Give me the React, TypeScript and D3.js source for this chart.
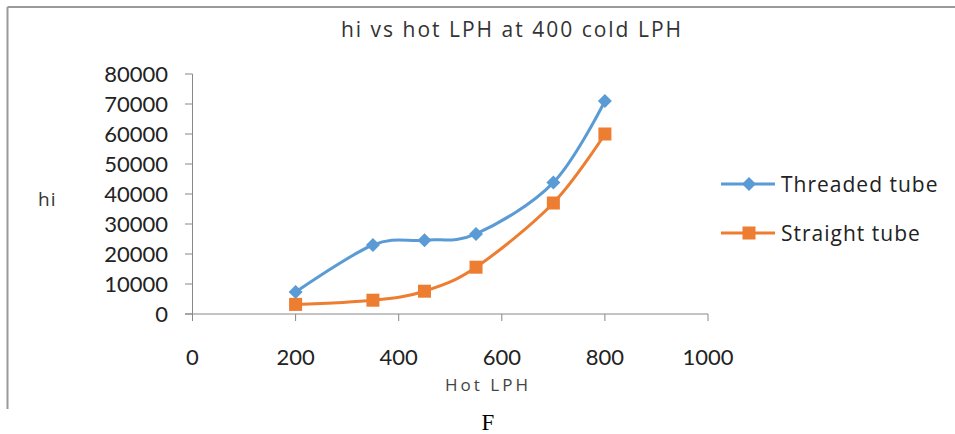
import React from "react";
import * as d3 from "d3";

const hotLPH = [200, 350, 450, 550, 700, 800];
const threaded = [7300, 23000, 24600, 26700, 43800, 71000];
const straight = [3200, 4600, 7600, 15600, 37000, 60000];
const xTicks = [0, 200, 400, 600, 800, 1000];
const yTicks = [0, 10000, 20000, 30000, 40000, 50000, 60000, 70000, 80000];

const W = 955;
const H = 434;
const BLUE = "#5B9BD5";
const ORANGE = "#ED7D31";
const FONT = "Lato, 'Open Sans', sans-serif";
const FONT2 = "'Open Sans', Lato, sans-serif";

export default function App() {
  const x = d3.scaleLinear().domain([0, 1000]).range([192.5, 708]);
  const y = d3.scaleLinear().domain([0, 80000]).range([314, 74]);
  const line = d3
    .line<[number, number]>()
    .x((d) => x(d[0]))
    .y((d) => y(d[1]))
    .curve(d3.curveCatmullRom.alpha(0));
  const tData = hotLPH.map((h, i) => [h, threaded[i]] as [number, number]);
  const sData = hotLPH.map((h, i) => [h, straight[i]] as [number, number]);
  const diamond = (cx: number, cy: number, r: number) =>
    `M${cx},${cy - r}L${cx + r},${cy}L${cx},${cy + r}L${cx - r},${cy}Z`;

  return (
    <svg
      width={W}
      height={H}
      style={{ position: "absolute", left: 0, top: 0, background: "#fff" }}
    >
      <rect x={0} y={0} width={W} height={H} fill="#fff" />
      {/* chart border */}
      <line x1={7.5} y1={7} x2={W} y2={7} stroke="#9a9a9a" strokeWidth={2} />
      <line x1={7.5} y1={7} x2={7.5} y2={409} stroke="#9a9a9a" strokeWidth={2} />

      <text
        x={512}
        y={37}
        textAnchor="middle"
        fontFamily={FONT2}
        fontSize={21}
        letterSpacing={2}
        fill="#333"
      >
        hi vs hot LPH at 400 cold LPH
      </text>

      {/* axes */}
      <line x1={x(0)} y1={y(0)} x2={x(0)} y2={y(80000)} stroke="#888" strokeWidth={1} />
      <line x1={185} y1={y(0)} x2={x(1000)} y2={y(0)} stroke="#888" strokeWidth={1} />
      {yTicks.map((t) => (
        <g key={"y" + t}>
          <line x1={185} x2={x(0)} y1={y(t)} y2={y(t)} stroke="#888" />
          <text
            x={168}
            y={y(t)}
            dy="0.36em"
            textAnchor="end"
            fontFamily={FONT}
            fontSize={22}
            fill="#222"
          >
            {t}
          </text>
        </g>
      ))}
      {xTicks.map((t) => (
        <g key={"x" + t}>
          <line x1={x(t)} x2={x(t)} y1={y(0)} y2={y(0) + 7} stroke="#888" />
          <text
            x={x(t)}
            y={365}
            textAnchor="middle"
            fontFamily={FONT}
            fontSize={22}
            fill="#222"
          >
            {t}
          </text>
        </g>
      ))}

      <text x={38} y={206} fontFamily={FONT2} fontSize={19} letterSpacing={1} fill="#333">
        hi
      </text>
      <text
        x={488}
        y={391}
        textAnchor="middle"
        fontFamily={FONT2}
        fontSize={17}
        letterSpacing={3}
        fill="#444"
      >
        Hot LPH
      </text>

      {/* series */}
      <path d={line(tData) || ""} fill="none" stroke={BLUE} strokeWidth={3} />
      <path d={line(sData) || ""} fill="none" stroke={ORANGE} strokeWidth={3} />
      {tData.map((d, i) => (
        <path key={"t" + i} d={diamond(x(d[0]), y(d[1]), 7)} fill={BLUE} />
      ))}
      {sData.map((d, i) => (
        <rect
          key={"s" + i}
          x={x(d[0]) - 6.5}
          y={y(d[1]) - 6.5}
          width={13}
          height={13}
          fill={ORANGE}
        />
      ))}

      {/* legend */}
      <line x1={721} x2={775} y1={184} y2={184} stroke={BLUE} strokeWidth={3} />
      <path d={diamond(749, 184, 7)} fill={BLUE} />
      <text x={781} y={184} dy="0.36em" fontFamily={FONT2} fontSize={21} letterSpacing={1} fill="#222">
        Threaded tube
      </text>
      <line x1={721} x2={775} y1={233} y2={233} stroke={ORANGE} strokeWidth={3} />
      <rect x={742.5} y={226.5} width={13} height={13} fill={ORANGE} />
      <text x={781} y={233} dy="0.36em" fontFamily={FONT2} fontSize={21} letterSpacing={1} fill="#222">
        Straight tube
      </text>

      <text
        x={488}
        y={430}
        textAnchor="middle"
        fontFamily="'Liberation Serif', 'DejaVu Serif', serif"
        fontSize={23}
        fill="#000"
      >
        F
      </text>
    </svg>
  );
}
